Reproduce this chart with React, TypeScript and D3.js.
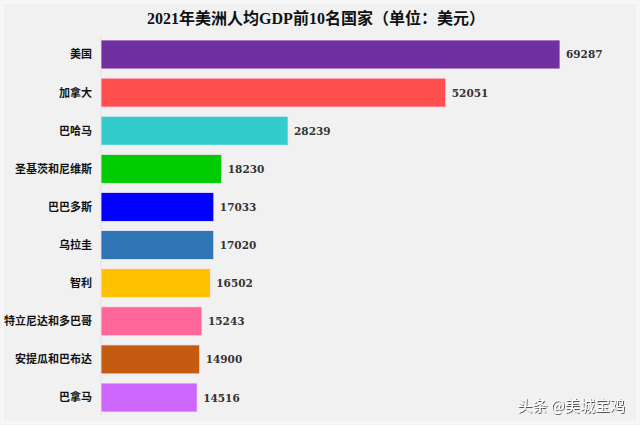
import React from "react";
import * as d3 from "d3";

const categories = ["美国", "加拿大", "巴哈马", "圣基茨和尼维斯", "巴巴多斯", "乌拉圭", "智利", "特立尼达和多巴哥", "安提瓜和巴布达", "巴拿马"];
const values = [69287, 52051, 28239, 18230, 17033, 17020, 16502, 15243, 14900, 14516];
const colors = ["#7030a0", "#ff4f4f", "#33cccc", "#00cc00", "#0000ff", "#2e75b6", "#ffc000", "#ff6699", "#c55a11", "#cc66ff"];
const title = "2021年美洲人均GDP前10名国家（单位：美元）";
const watermark = "头条 @美城宝鸡";

const W = 640;
const H = 425;

export default function App() {
  const x = d3.scaleLinear().domain([0, 69287]).range([101, 560]);
  const y = d3.scaleBand<string>().domain(categories).range([40, 412]).paddingInner(0.24).paddingOuter(0);
  return (
    <div style={{ position: "fixed", left: 0, top: 0 }}>
      <svg width={W} height={H} style={{ display: "block" }}>
        <defs>
          <filter id="sh" x="-10%" y="-30%" width="120%" height="160%">
            <feDropShadow dx="0.8" dy="0.8" stdDeviation="0.6" floodColor="#000" floodOpacity="0.8" />
          </filter>
        </defs>
        <rect x={0} y={0} width={W} height={H} fill="#f1f1f1" />
        <rect x={2} y={2} width={W - 4} height={H - 4} fill="none" stroke="#f7f7f7" strokeWidth={3} />
        <text x={316} y={24} textAnchor="middle" fontFamily="'Liberation Serif', 'Noto Sans CJK SC', serif" fontWeight="bold" fontSize={16} fill="#111">
          {title}
        </text>
        <line x1={x(0)} x2={x(0)} y1={36} y2={416} stroke="#e2e2e2" strokeWidth={1} />
        {categories.map((c, i) => {
          const v = values[i];
          const yy = y(c)!;
          const bh = y.bandwidth();
          return (
            <g key={c}>
              <rect x={x(0)} y={yy} width={x(v) - x(0)} height={bh} fill={colors[i]} stroke="#fbe8fb" strokeWidth={0.8} />
              <text x={92} y={yy + bh / 2} dy="0.36em" textAnchor="end" fontFamily="'Noto Sans CJK SC', sans-serif" fontWeight="bold" fontSize={11} fill="#111">
                {c}
              </text>
              <text x={x(v) + 6} y={yy + bh / 2} dy="0.38em" fontFamily="'DejaVu Serif', serif" fontWeight="bold" fontSize={10.5} fill="#333">
                {v}
              </text>
            </g>
          );
        })}
        <text x={625} y={411} textAnchor="end" fontFamily="'Noto Sans CJK SC', sans-serif" fontSize={15} fill="#fff" filter="url(#sh)">
          {watermark}
        </text>
      </svg>
    </div>
  );
}
